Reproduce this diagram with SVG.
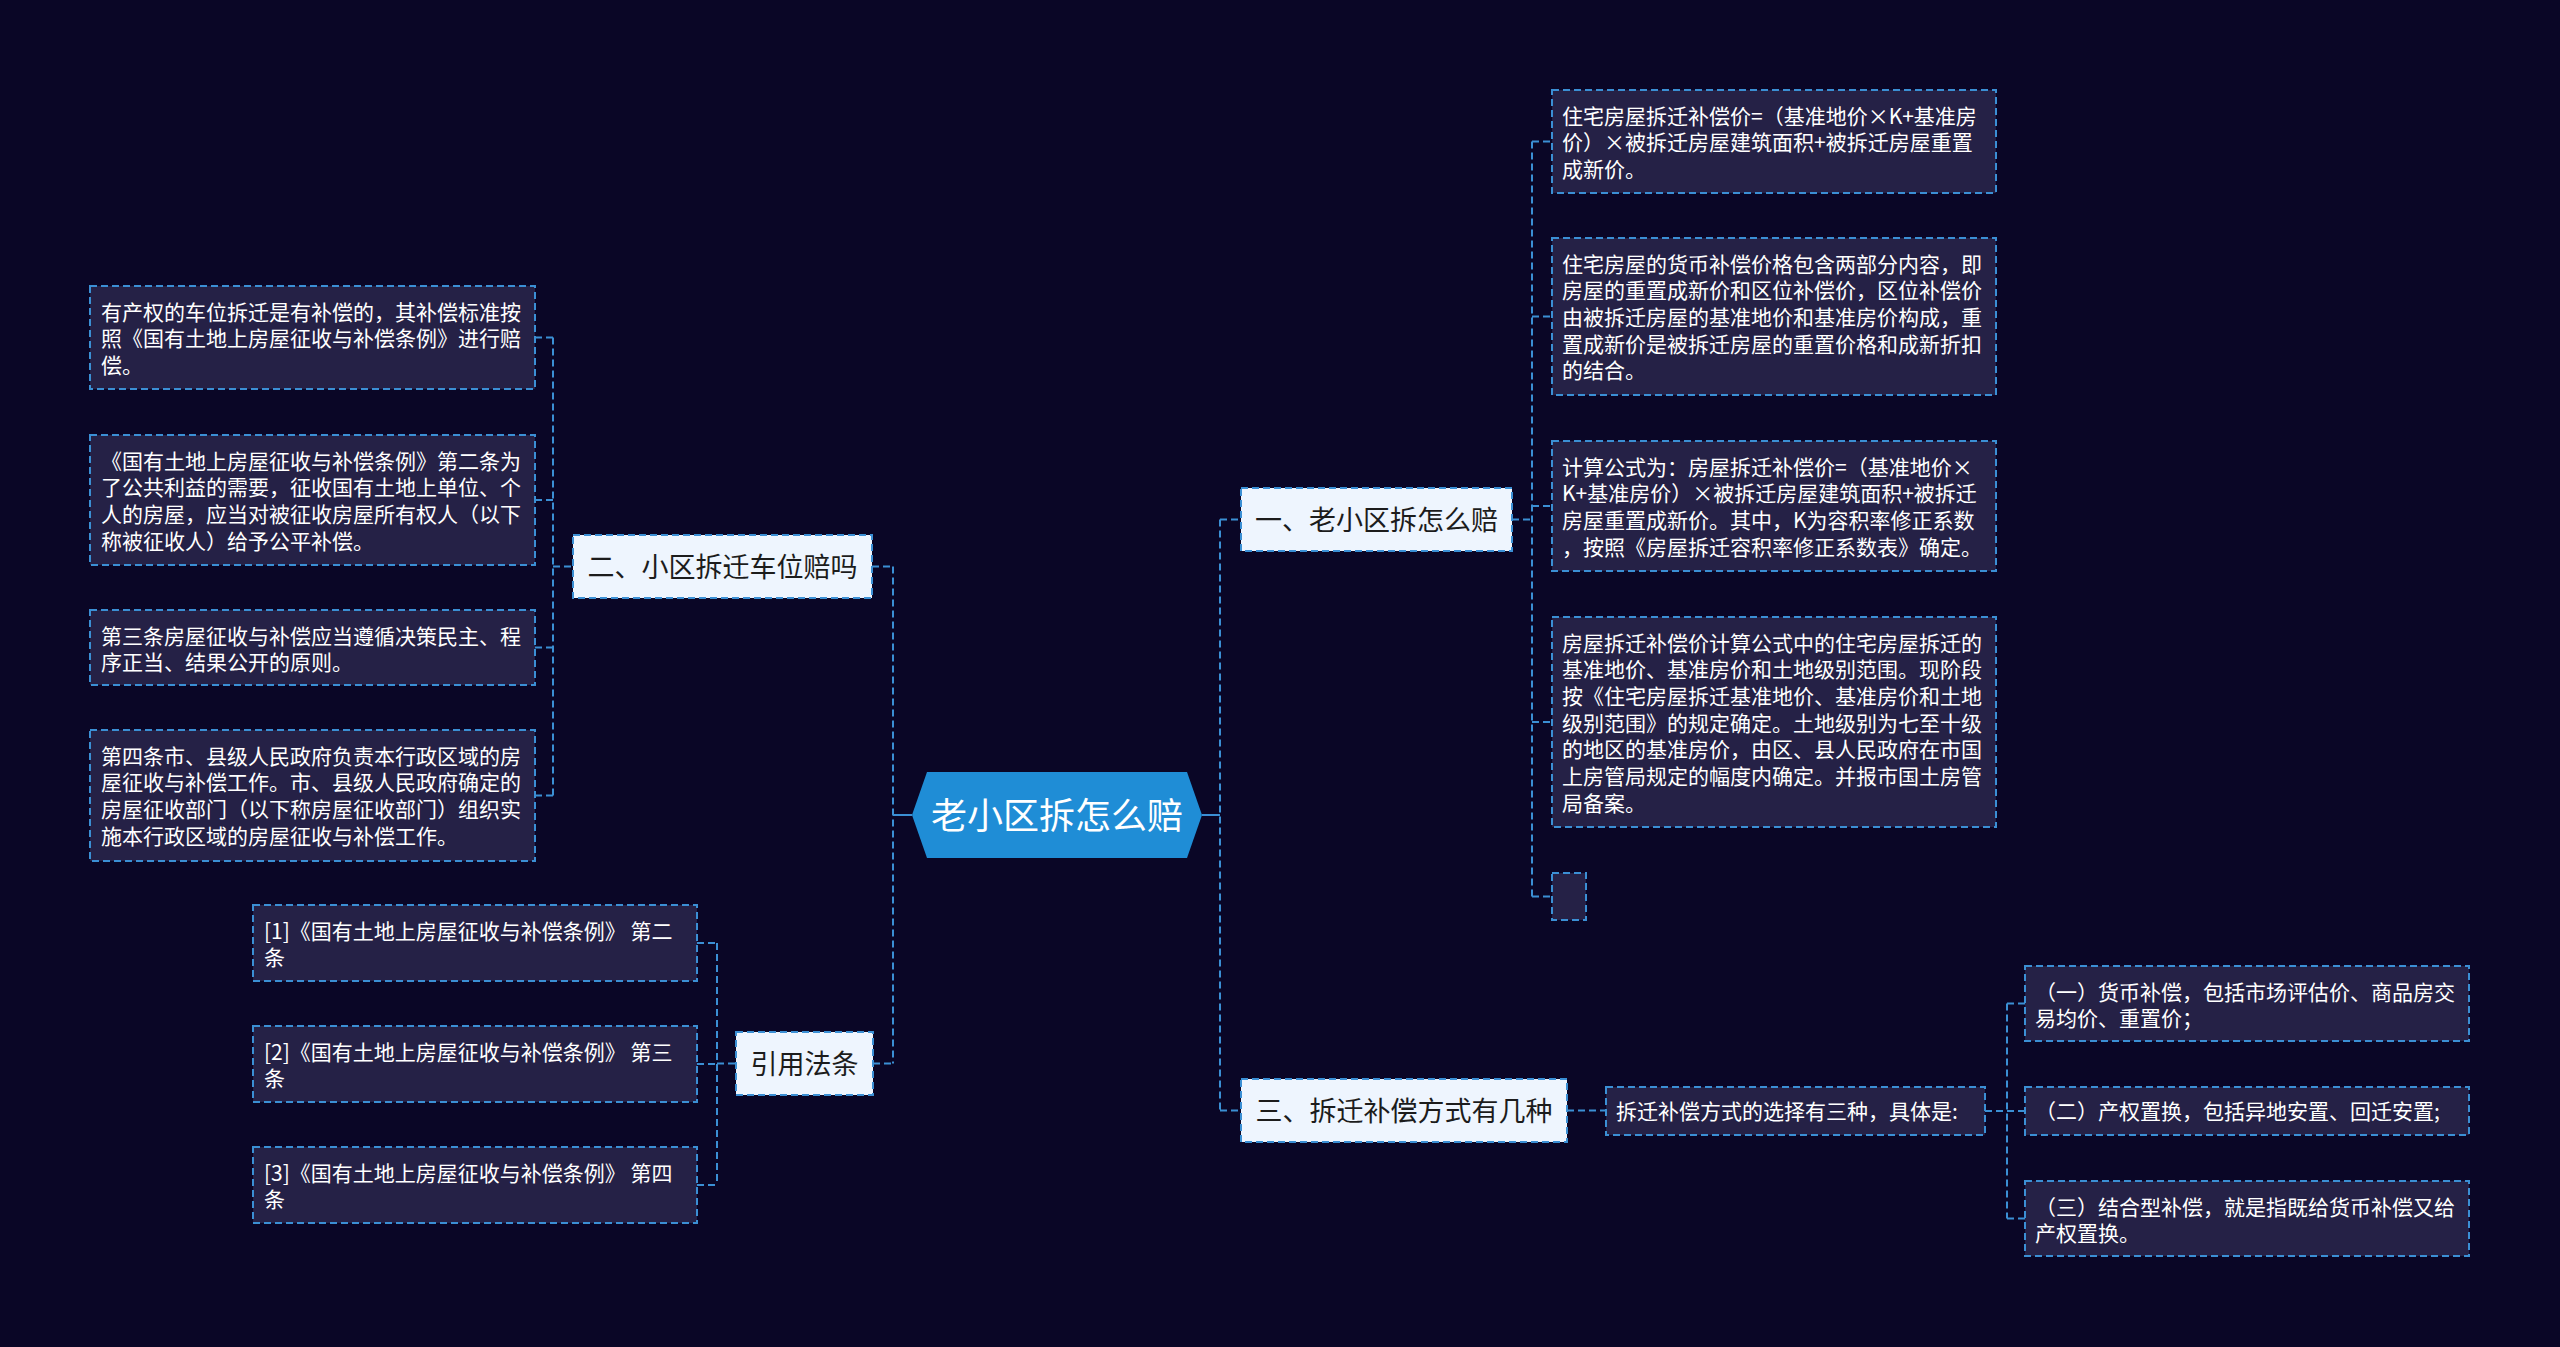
<svg xmlns="http://www.w3.org/2000/svg" width="2560" height="1347" viewBox="0 0 2560 1347">
<style>
.bg{fill:#0a0626}
.leaf{fill:#252146;stroke:#3b8fd4;stroke-width:2;stroke-dasharray:7 4}
.br{fill:#eef5fe;stroke:#3b8fd4;stroke-width:2;stroke-dasharray:7 4}
.lt{font-family:"Noto Sans CJK SC","Liberation Sans",sans-serif;font-size:21px;fill:#ffffff}
.bt{font-family:"Noto Sans CJK SC","Liberation Sans",sans-serif;font-size:27px;fill:#1c1c1c;text-anchor:middle}
.ct{font-family:"Noto Sans CJK SC","Liberation Sans",sans-serif;font-size:36px;fill:#ffffff;text-anchor:middle}
.cn{fill:none;stroke:#3b8fd4;stroke-width:2;stroke-dasharray:7 4}
.cs{fill:none;stroke:#3b8fd4;stroke-width:2}
</style>
<rect class="bg" x="0" y="0" width="2560" height="1347"/>
<g id="connectors">
<line class="cs" x1="912" y1="815" x2="893" y2="815"/>
<line class="cs" x1="1202" y1="815" x2="1220" y2="815"/>
<path class="cn" d="M893 566.5V1063.5M872 566.5H893M873 1063.5H893"/>
<path class="cn" d="M1220 519.5V1110.5M1220 519.5H1241M1220 1110.5H1241"/>
<path class="cn" d="M553 337.5V795.5M535 337.5H553M535 500H553M535 647.5H553M535 795.5H553M553 566.5H573"/>
<path class="cn" d="M717 943V1185M697 943H717M697 1064H717M697 1185H717M717 1063.5H736"/>
<path class="cn" d="M1532 141.5V896.5M1512 519.5H1532M1532 141.5H1552M1532 316.5H1552M1532 506H1552M1532 722H1552M1532 896.5H1552"/>
<path class="cn" d="M1567 1110.5H1606M1985 1111H2007M2007 1003.5V1218.5M2007 1003.5H2025M2007 1111H2025M2007 1218.5H2025"/>
</g>
<g id="center">
<polygon points="912,815 927,772 1187,772 1202,815 1187,858 927,858" fill="#1f8dd6"/>
<text class="ct" x="1057" y="828.5">老小区拆怎么赔</text>
</g>
<g id="branch1">
<rect class="br" x="1241" y="488" width="271" height="63"/>
<text class="bt" x="1376.5" y="529.5">一、老小区拆怎么赔</text>
</g>
<g id="branch2">
<rect class="br" x="573" y="535" width="299" height="63"/>
<text class="bt" x="722.5" y="576.5">二、小区拆迁车位赔吗</text>
</g>
<g id="branch-refs">
<rect class="br" x="736" y="1032" width="137" height="63"/>
<text class="bt" x="804.5" y="1073.5">引用法条</text>
</g>
<g id="branch3">
<rect class="br" x="1241" y="1079" width="326" height="63"/>
<text class="bt" x="1404" y="1120.5">三、拆迁补偿方式有几种</text>
</g>
<g id="leaf-a">
<rect class="leaf" x="90" y="286" width="445" height="103"/>
<text class="lt"><tspan x="101" y="319.5">有产权的车位拆迁是有补偿的，其补偿标准按</tspan><tspan x="101" y="346.2">照《国有土地上房屋征收与补偿条例》进行赔</tspan><tspan x="101" y="372.9">偿。</tspan></text>
</g>
<g id="leaf-b">
<rect class="leaf" x="90" y="435" width="445" height="130"/>
<text class="lt"><tspan x="101" y="468.5">《国有土地上房屋征收与补偿条例》第二条为</tspan><tspan x="101" y="495.2">了公共利益的需要，征收国有土地上单位、个</tspan><tspan x="101" y="521.9">人的房屋，应当对被征收房屋所有权人（以下</tspan><tspan x="101" y="548.6">称被征收人）给予公平补偿。</tspan></text>
</g>
<g id="leaf-c">
<rect class="leaf" x="90" y="610" width="445" height="75"/>
<text class="lt"><tspan x="101" y="643.5">第三条房屋征收与补偿应当遵循决策民主、程</tspan><tspan x="101" y="670.2">序正当、结果公开的原则。</tspan></text>
</g>
<g id="leaf-d">
<rect class="leaf" x="90" y="730" width="445" height="131"/>
<text class="lt"><tspan x="101" y="763.5">第四条市、县级人民政府负责本行政区域的房</tspan><tspan x="101" y="790.2">屋征收与补偿工作。市、县级人民政府确定的</tspan><tspan x="101" y="816.9">房屋征收部门（以下称房屋征收部门）组织实</tspan><tspan x="101" y="843.6">施本行政区域的房屋征收与补偿工作。</tspan></text>
</g>
<g id="ref-1">
<rect class="leaf" x="253" y="905" width="444" height="76"/>
<text class="lt"><tspan x="264" y="938.5">[1]《国有土地上房屋征收与补偿条例》 第二</tspan><tspan x="264" y="965.2">条</tspan></text>
</g>
<g id="ref-2">
<rect class="leaf" x="253" y="1026" width="444" height="76"/>
<text class="lt"><tspan x="264" y="1059.5">[2]《国有土地上房屋征收与补偿条例》 第三</tspan><tspan x="264" y="1086.2">条</tspan></text>
</g>
<g id="ref-3">
<rect class="leaf" x="253" y="1147" width="444" height="76"/>
<text class="lt"><tspan x="264" y="1180.5">[3]《国有土地上房屋征收与补偿条例》 第四</tspan><tspan x="264" y="1207.2">条</tspan></text>
</g>
<g id="leaf-r1">
<rect class="leaf" x="1552" y="90" width="444" height="103"/>
<text class="lt"><tspan x="1562" y="123.5">住宅房屋拆迁补偿价=（基准地价×K+基准房</tspan><tspan x="1562" y="150.2">价）×被拆迁房屋建筑面积+被拆迁房屋重置</tspan><tspan x="1562" y="176.9">成新价。</tspan></text>
</g>
<g id="leaf-r2">
<rect class="leaf" x="1552" y="238" width="444" height="157"/>
<text class="lt"><tspan x="1562" y="271.5">住宅房屋的货币补偿价格包含两部分内容，即</tspan><tspan x="1562" y="298.2">房屋的重置成新价和区位补偿价，区位补偿价</tspan><tspan x="1562" y="324.9">由被拆迁房屋的基准地价和基准房价构成，重</tspan><tspan x="1562" y="351.6">置成新价是被拆迁房屋的重置价格和成新折扣</tspan><tspan x="1562" y="378.3">的结合。</tspan></text>
</g>
<g id="leaf-r3">
<rect class="leaf" x="1552" y="441" width="444" height="130"/>
<text class="lt"><tspan x="1562" y="474.5">计算公式为：房屋拆迁补偿价=（基准地价×</tspan><tspan x="1562" y="501.2">K+基准房价）×被拆迁房屋建筑面积+被拆迁</tspan><tspan x="1562" y="527.9">房屋重置成新价。其中，K为容积率修正系数</tspan><tspan x="1562" y="554.6">，按照《房屋拆迁容积率修正系数表》确定。</tspan></text>
</g>
<g id="leaf-r4">
<rect class="leaf" x="1552" y="617" width="444" height="210"/>
<text class="lt"><tspan x="1562" y="650.5">房屋拆迁补偿价计算公式中的住宅房屋拆迁的</tspan><tspan x="1562" y="677.2">基准地价、基准房价和土地级别范围。现阶段</tspan><tspan x="1562" y="703.9">按《住宅房屋拆迁基准地价、基准房价和土地</tspan><tspan x="1562" y="730.6">级别范围》的规定确定。土地级别为七至十级</tspan><tspan x="1562" y="757.3">的地区的基准房价，由区、县人民政府在市国</tspan><tspan x="1562" y="784">上房管局规定的幅度内确定。并报市国土房管</tspan><tspan x="1562" y="810.7">局备案。</tspan></text>
</g>
<g id="leaf-r5">
<rect class="leaf" x="1552" y="873" width="34" height="47"/>
</g>
<g id="leaf-b3">
<rect class="leaf" x="1606" y="1087" width="379" height="48"/>
<text class="lt" x="1616" y="1119">拆迁补偿方式的选择有三种，具体是:</text>
</g>
<g id="leaf-s1">
<rect class="leaf" x="2025" y="966" width="444" height="75"/>
<text class="lt"><tspan x="2035" y="999.5">（一）货币补偿，包括市场评估价、商品房交</tspan><tspan x="2035" y="1026.2">易均价、重置价；</tspan></text>
</g>
<g id="leaf-s2">
<rect class="leaf" x="2025" y="1087" width="444" height="48"/>
<text class="lt" x="2035" y="1119">（二）产权置换，包括异地安置、回迁安置;</text>
</g>
<g id="leaf-s3">
<rect class="leaf" x="2025" y="1181" width="444" height="75"/>
<text class="lt"><tspan x="2035" y="1214.5">（三）结合型补偿，就是指既给货币补偿又给</tspan><tspan x="2035" y="1241.2">产权置换。</tspan></text>
</g>
</svg>
